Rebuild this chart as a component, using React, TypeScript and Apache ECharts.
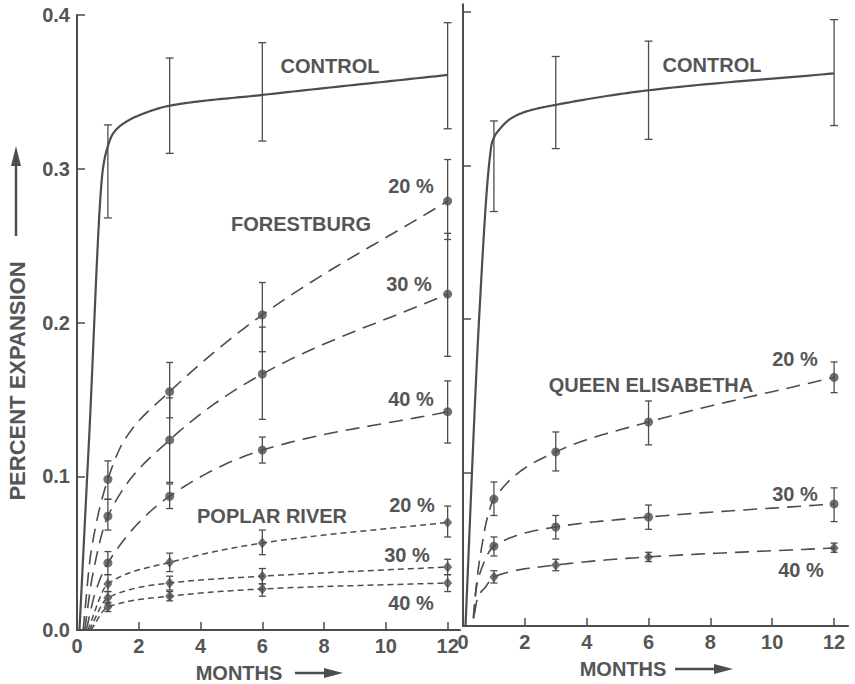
import React, { useEffect, useRef } from 'react';
import * as echarts from 'echarts';

// ---------- data (months, percent expansion) ----------
const xTicks = [0, 2, 4, 6, 8, 10, 12];
const yTicks = [0, 0.1, 0.2, 0.3, 0.4];

// Left panel: Forestburg / Poplar River
const controlLeftCurve = [[0.08, 0], [0.39, 0.124], [0.84, 0.3], [0.96, 0.312], [1.17, 0.323], [1.55, 0.33], [2.04, 0.335], [3, 0.341], [6, 0.348], [12, 0.361]];
const controlLeftErr = [[1, 0.268, 0.3285], [3, 0.31, 0.372], [6, 0.318, 0.382], [12, 0.326, 0.395]];

const forest20Curve = [[0.2, 0], [0.45, 0.05], [1, 0.098], [1.55, 0.124], [3, 0.155], [6, 0.205], [12, 0.279]];
const forest20Mean = [[1, 0.098], [3, 0.155], [6, 0.205], [12, 0.279]];
const forest20Err = [[1, 0.085, 0.11], [3, 0.138, 0.174], [6, 0.181, 0.226], [12, 0.254, 0.306]];

const forest30Curve = [[0.25, 0], [0.5, 0.035], [1, 0.074], [3, 0.1236], [6, 0.1665], [12, 0.2185]];
const forest30Mean = [[1, 0.074], [3, 0.1236], [6, 0.1665], [12, 0.2185]];
const forest30Err = [[1, 0.065, 0.085], [3, 0.096, 0.151], [6, 0.137, 0.197], [12, 0.178, 0.258]];

const forest40Curve = [[0.3, 0], [0.6, 0.025], [1, 0.0436], [3, 0.087], [6, 0.117], [12, 0.142]];
const forest40Mean = [[1, 0.0436], [3, 0.087], [6, 0.117], [12, 0.142]];
const forest40Err = [[1, 0.036, 0.051], [3, 0.079, 0.095], [6, 0.1086, 0.1255], [12, 0.1216, 0.162]];

const poplar20Curve = [[0.35, 0], [1, 0.03], [3, 0.044], [6, 0.0566], [12, 0.07]];
const poplar20Mean = [[1, 0.03], [3, 0.044], [6, 0.0566], [12, 0.07]];
const poplar20Err = [[1, 0.025, 0.036], [3, 0.038, 0.05], [6, 0.049, 0.065], [12, 0.0605, 0.0806]];

const poplar30Curve = [[0.4, 0], [1, 0.021], [3, 0.0306], [6, 0.035], [12, 0.041]];
const poplar30Mean = [[1, 0.021], [3, 0.0306], [6, 0.035], [12, 0.041]];
const poplar30Err = [[1, 0.017, 0.025], [3, 0.026, 0.035], [6, 0.03, 0.04], [12, 0.036, 0.046]];

const poplar40Curve = [[0.45, 0], [1, 0.015], [3, 0.022], [6, 0.0267], [12, 0.0306]];
const poplar40Mean = [[1, 0.015], [3, 0.022], [6, 0.0267], [12, 0.0306]];
const poplar40Err = [[1, 0.012, 0.018], [3, 0.019, 0.025], [6, 0.022, 0.03], [12, 0.025, 0.036]];

// Right panel: Queen Elisabetha
const controlRightCurve = [[0.08, 0], [0.52, 0.2], [0.84, 0.3], [0.94, 0.315], [1.2, 0.324], [1.58, 0.331], [2.1, 0.3355], [3, 0.3395], [6, 0.349], [12, 0.36]];
const controlRightErr = [[1, 0.27, 0.329], [3, 0.311, 0.371], [6, 0.317, 0.381], [12, 0.326, 0.395]];

const queen20Curve = [[0.33, 0.005], [0.45, 0.03], [0.6, 0.051], [0.78, 0.07], [1, 0.0827], [3, 0.1134], [6, 0.1329], [12, 0.162]];
const queen20Mean = [[1, 0.0827], [3, 0.1134], [6, 0.1329], [12, 0.162]];
const queen20Err = [[1, 0.072, 0.0938], [3, 0.101, 0.1264], [6, 0.118, 0.1466], [12, 0.152, 0.172]];

const queen30Curve = [[0.35, 0.005], [0.42, 0.023], [0.55, 0.0345], [1, 0.052], [3, 0.0645], [6, 0.071], [12, 0.0795]];
const queen30Mean = [[1, 0.052], [3, 0.0645], [6, 0.071], [12, 0.0795]];
const queen30Err = [[1, 0.0456, 0.058], [3, 0.0567, 0.072], [6, 0.063, 0.0788], [12, 0.068, 0.09]];

const queen40Curve = [[0.37, 0.008], [0.48, 0.019], [0.71, 0.025], [1, 0.032], [3, 0.0397], [6, 0.045], [12, 0.0508]];
const queen40Mean = [[1, 0.032], [3, 0.0397], [6, 0.045], [12, 0.0508]];
const queen40Err = [[1, 0.028, 0.036], [3, 0.036, 0.0435], [6, 0.042, 0.048], [12, 0.048, 0.054]];

// ---------- styling ----------
const INK = '#4d4d4d';
const TXT = '#555555';
const FONT = 'Liberation Sans';
const LONG_DASH = [14, 8];
const SHORT_DASH = [6, 4];

// monotone cubic (Steffen / Fritsch-Butland) rendering of the read points
function monotoneSample(pts: number[][], steps = 30): number[][] {
  const m = pts.length;
  const xs = pts.map((p) => p[0]);
  const ys = pts.map((p) => p[1]);
  const d: number[] = [];
  for (let i = 0; i < m - 1; i++) d.push((ys[i + 1] - ys[i]) / (xs[i + 1] - xs[i]));
  const t: number[] = new Array(m).fill(0);
  t[0] = d[0];
  t[m - 1] = d[m - 2];
  for (let i = 1; i < m - 1; i++) {
    if (d[i - 1] * d[i] <= 0) { t[i] = 0; continue; }
    const h0 = xs[i] - xs[i - 1];
    const h1 = xs[i + 1] - xs[i];
    const w1 = 2 * h1 + h0;
    const w2 = h1 + 2 * h0;
    t[i] = (w1 + w2) / (w1 / d[i - 1] + w2 / d[i]);
  }
  const out: number[][] = [];
  for (let i = 0; i < m - 1; i++) {
    const h = xs[i + 1] - xs[i];
    for (let k = 0; k < steps; k++) {
      const s = k / steps;
      const h00 = 2 * s * s * s - 3 * s * s + 1;
      const h10 = s * s * s - 2 * s * s + s;
      const h01 = -2 * s * s * s + 3 * s * s;
      const h11 = s * s * s - s * s;
      out.push([xs[i] + s * h, h00 * ys[i] + h10 * h * t[i] + h01 * ys[i + 1] + h11 * h * t[i + 1]]);
    }
  }
  out.push([xs[m - 1], ys[m - 1]]);
  return out;
}

function curve(data: number[][], gi: number, dash: number[] | null, width: number) {
  const samples = monotoneSample(data);
  return {
    type: 'custom', xAxisIndex: gi, yAxisIndex: gi, data,
    encode: { x: 0, y: 1 }, silent: true, z: 3,
    renderItem: (params: any, api: any) => {
      if (params.dataIndex !== 0) return null;
      return {
        type: 'polyline',
        shape: { points: samples.map((p) => api.coord(p)) },
        style: { stroke: INK, lineWidth: width, lineDash: dash, fill: null, lineJoin: 'round' },
      };
    },
  };
}
function markers(data: number[][], gi: number, symbol: string, size: any) {
  return {
    type: 'scatter', xAxisIndex: gi, yAxisIndex: gi, data,
    symbol, symbolSize: size, itemStyle: { color: INK }, silent: true, z: 5,
  };
}
function errBars(data: number[][], gi: number, half: number) {
  return {
    type: 'custom', xAxisIndex: gi, yAxisIndex: gi, data,
    encode: { x: 0, y: [1, 2] }, silent: true, z: 4,
    renderItem: (params: any, api: any) => {
      const x = api.value(0);
      const p1 = api.coord([x, api.value(1)]);
      const p2 = api.coord([x, api.value(2)]);
      const style = { stroke: INK, lineWidth: 1.3 };
      return {
        type: 'group',
        children: [
          { type: 'line', shape: { x1: p1[0], y1: p1[1], x2: p2[0], y2: p2[1] }, style },
          { type: 'line', shape: { x1: p1[0] - half, y1: p1[1], x2: p1[0] + half, y2: p1[1] }, style },
          { type: 'line', shape: { x1: p2[0] - half, y1: p2[1], x2: p2[0] + half, y2: p2[1] }, style },
        ],
      };
    },
  };
}
function label(text: string, x: number, y: number, size = 20, rotation = 0) {
  return {
    type: 'text', x, y, rotation, silent: true,
    style: { text, fill: TXT, font: `bold ${size}px "${FONT}"`, align: 'center', verticalAlign: 'middle' },
  };
}

export default function App() {
  const ref = useRef<HTMLDivElement>(null);
  useEffect(() => {
    if (!ref.current) return;
    const chart = echarts.init(ref.current, null, { renderer: 'svg' });
    const axisLabelStyle = { color: TXT, fontFamily: FONT, fontWeight: 'bold', fontSize: 20 };
    const axisLine = { show: true, onZero: false, lineStyle: { color: INK, width: 2 } };
    const tick = (vals: number[]) => ({ show: true, inside: true, length: 8, customValues: vals, lineStyle: { color: INK, width: 1.5 } });
    const option: any = {
      animation: false,
      backgroundColor: '#ffffff',
      grid: [
        { left: 77, top: 15, width: 383, height: 615 },
        { left: 463, top: 4.3, width: 385, height: 621.7 },
      ],
      xAxis: [
        {
          type: 'value', gridIndex: 0, min: 0, max: 12.4,
          axisLine, splitLine: { show: false }, axisTick: tick(xTicks),
          axisLabel: { ...axisLabelStyle, margin: 6, customValues: xTicks },
        },
        {
          type: 'value', gridIndex: 1, min: 0, max: 12.45,
          axisLine, splitLine: { show: false }, axisTick: tick(xTicks),
          axisLabel: { ...axisLabelStyle, margin: 6, customValues: xTicks },
        },
      ],
      yAxis: [
        {
          type: 'value', gridIndex: 0, min: 0, max: 0.4,
          axisLine, splitLine: { show: false }, axisTick: tick(yTicks),
          axisLabel: { ...axisLabelStyle, margin: 7, customValues: yTicks, formatter: (v: number) => v.toFixed(1) },
        },
        {
          type: 'value', gridIndex: 1, min: 0, max: 0.405,
          axisLine, splitLine: { show: false }, axisTick: tick(yTicks.slice(1)),
          axisLabel: { show: false },
        },
      ],
      series: [
        curve(controlLeftCurve, 0, null, 2.2),
        errBars(controlLeftErr, 0, 4),
        curve(forest20Curve, 0, LONG_DASH, 1.6),
        curve(forest30Curve, 0, LONG_DASH, 1.6),
        curve(forest40Curve, 0, LONG_DASH, 1.6),
        errBars(forest20Err, 0, 3.5),
        errBars(forest30Err, 0, 3.5),
        errBars(forest40Err, 0, 3.5),
        markers(forest20Mean, 0, 'circle', 9),
        markers(forest30Mean, 0, 'circle', 9),
        markers(forest40Mean, 0, 'circle', 9),
        curve(poplar20Curve, 0, SHORT_DASH, 1.5),
        curve(poplar30Curve, 0, SHORT_DASH, 1.5),
        curve(poplar40Curve, 0, SHORT_DASH, 1.5),
        errBars(poplar20Err, 0, 3.5),
        errBars(poplar30Err, 0, 3.5),
        errBars(poplar40Err, 0, 3.5),
        markers(poplar20Mean, 0, 'diamond', [9, 11]),
        markers(poplar30Mean, 0, 'diamond', [9, 11]),
        markers(poplar40Mean, 0, 'diamond', [9, 11]),

        curve(controlRightCurve, 1, null, 2.2),
        errBars(controlRightErr, 1, 4),
        curve(queen20Curve, 1, LONG_DASH, 1.6),
        curve(queen30Curve, 1, LONG_DASH, 1.6),
        curve(queen40Curve, 1, LONG_DASH, 1.6),
        errBars(queen20Err, 1, 3.5),
        errBars(queen30Err, 1, 3.5),
        errBars(queen40Err, 1, 3.5),
        markers(queen20Mean, 1, 'circle', 9),
        markers(queen30Mean, 1, 'circle', 9),
        markers(queen40Mean, 1, 'diamond', [9, 11]),
      ],
      graphic: [
        label('CONTROL', 330, 66),
        label('FORESTBURG', 301, 224),
        label('20 %', 411, 186),
        label('30 %', 409, 284),
        label('40 %', 411, 399),
        label('POPLAR RIVER', 272, 516),
        label('20 %', 412, 505),
        label('30 %', 407, 555),
        label('40 %', 411, 603),
        label('CONTROL', 712, 65),
        label('QUEEN ELISABETHA', 651, 385),
        label('20 %', 795, 359),
        label('30 %', 795, 494),
        label('40 %', 801, 570),
        label('MONTHS', 239, 673),
        label('MONTHS', 623, 669),
        label('PERCENT EXPANSION', 17, 381, 22, Math.PI / 2),
        // arrows
        { type: 'line', silent: true, shape: { x1: 16, y1: 236, x2: 16, y2: 162 }, style: { stroke: INK, lineWidth: 2.5 } },
        { type: 'polygon', silent: true, shape: { points: [[16, 146], [11, 166], [21, 166]] }, style: { fill: INK } },
        { type: 'line', silent: true, shape: { x1: 295, y1: 673, x2: 328, y2: 673 }, style: { stroke: INK, lineWidth: 2.5 } },
        { type: 'polygon', silent: true, shape: { points: [[343, 673], [324, 668], [324, 678]] }, style: { fill: INK } },
        { type: 'line', silent: true, shape: { x1: 675, y1: 669, x2: 718, y2: 669 }, style: { stroke: INK, lineWidth: 2.5 } },
        { type: 'polygon', silent: true, shape: { points: [[733, 669], [714, 664], [714, 674]] }, style: { fill: INK } },
      ],
    };
    chart.setOption(option);
    return () => chart.dispose();
  }, []);
  return <div ref={ref} style={{ position: 'fixed', left: 0, top: 0, width: 855, height: 684, background: '#fff' }} />;
}
